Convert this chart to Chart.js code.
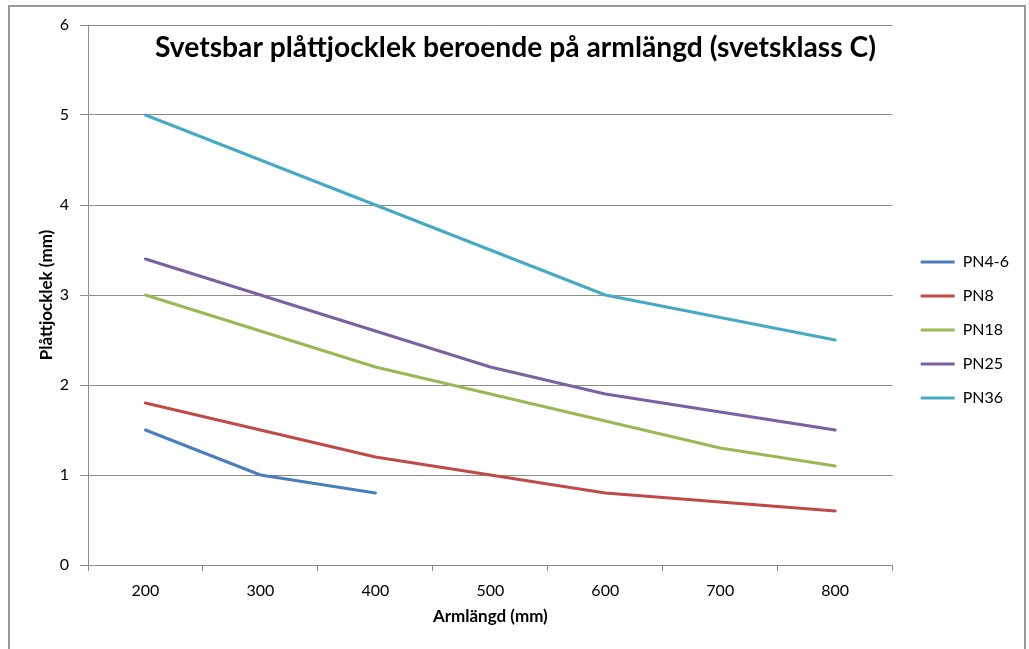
<!DOCTYPE html>
<html><head><meta charset="utf-8">
<script src="https://cdn.jsdelivr.net/npm/chart.js@4"></script>
<style>
html,body{margin:0;padding:0;background:#fff;overflow:hidden;}
#wrap{position:relative;width:1029px;height:649px;overflow:hidden;}
#frame{position:absolute;left:8px;top:5px;width:1018px;height:700px;border:2px solid #9a9a9a;box-sizing:border-box;pointer-events:none}
canvas{position:absolute;left:0;top:0}
</style></head><body>
<div id="wrap"><canvas id="c" width="1029" height="649"></canvas><div id="frame"></div></div>
<script>
const chartTitle = 'Svetsbar plåttjocklek beroende på armlängd (svetsklass C)';
const xTitle = 'Armlängd (mm)';
const yTitle = 'Plåttjocklek (mm)';
const categories = ['200', '300', '400', '500', '600', '700', '800'];
const seriesNames = ['PN4-6', 'PN8', 'PN18', 'PN25', 'PN36'];
const pn46 = [1.5, 1.0, 0.8, null, null, null, null];
const pn8  = [1.8, 1.5, 1.2, 1.0, 0.8, 0.7, 0.6];
const pn18 = [3.0, 2.6, 2.2, 1.9, 1.6, 1.3, 1.1];
const pn25 = [3.4, 3.0, 2.6, 2.2, 1.9, 1.7, 1.5];
const pn36 = [5.0, 4.5, 4.0, 3.5, 3.0, 2.75, 2.5];
const seriesColors = ['#4A7EBB', '#BE4B48', '#98B954', '#7D60A0', '#46AAC5'];
const seriesData = [pn46, pn8, pn18, pn25, pn36];

Chart.defaults.font.family = 'Lato';
Chart.defaults.color = '#000';

const gridColor = '#8c8c8c';

const insideTitle = {
  id: 'insideTitle',
  afterDraw(chart) {
    const {ctx, chartArea} = chart;
    ctx.save();
    ctx.font = 'bold 100px Lato';
    const w = ctx.measureText(chartTitle).width;
    const size = 100 * 721 / w;
    ctx.font = 'bold ' + size + 'px Lato';
    ctx.fillStyle = '#000';
    ctx.textAlign = 'left';
    ctx.textBaseline = 'alphabetic';
    ctx.fillText(chartTitle, chartArea.left + 67, chartArea.top + 32);
    ctx.restore();
  }
};

new Chart(document.getElementById('c'), {
  type: 'line',
  data: {
    labels: categories,
    datasets: seriesNames.map((n, i) => ({
      label: n,
      data: seriesData[i],
      borderColor: seriesColors[i],
      backgroundColor: seriesColors[i],
      borderWidth: 3,
      pointRadius: 0,
      tension: 0,
      spanGaps: false,
      borderCapStyle: 'round',
      borderJoinStyle: 'round'
    }))
  },
  options: {
    responsive: false,
    animation: false,
    layout: { padding: { left: 0, top: 25, right: 10, bottom: 14 } },
    scales: {
      x: {
        type: 'category',
        offset: true,
        grid: { offset: true, drawOnChartArea: false, color: gridColor, tickColor: gridColor, tickLength: 6 },
        border: { display: true, color: gridColor },
        ticks: { font: { size: 16 }, padding: 10, color: '#000', maxRotation: 0, autoSkip: false },
        title: { display: true, text: xTitle, font: { size: 17, weight: 'bold' }, padding: { top: 0, bottom: 8 }, color: '#000' },
        afterFit(s) { s.height = 70; }
      },
      y: {
        min: 0, max: 6,
        ticks: { stepSize: 1, font: { size: 16 }, padding: 11, color: '#000' },
        grid: { color: gridColor, tickColor: gridColor, tickLength: 8 },
        border: { display: true, color: gridColor },
        title: { display: true, text: yTitle, font: { size: 17, weight: 'bold' }, padding: { top: 36, bottom: 0 }, color: '#000' },
        afterFit(s) { s.width = 88; }
      },
      gap: {
        type: 'linear', position: 'right', display: true,
        grid: { display: false, drawTicks: false },
        border: { display: false },
        ticks: { display: false },
        afterFit(s) { s.width = 10; }
      }
    },
    plugins: {
      tooltip: { enabled: false },
      legend: {
        position: 'right',
        labels: {
          boxWidth: 34,
          boxHeight: 3,
          padding: 18,
          color: '#000',
          font: { size: 16 },
          generateLabels: (chart) => Chart.defaults.plugins.legend.labels.generateLabels(chart).map(l => Object.assign(l, { lineWidth: 0 }))
        }
      }
    }
  },
  plugins: [insideTitle]
});
</script>
</body></html>
